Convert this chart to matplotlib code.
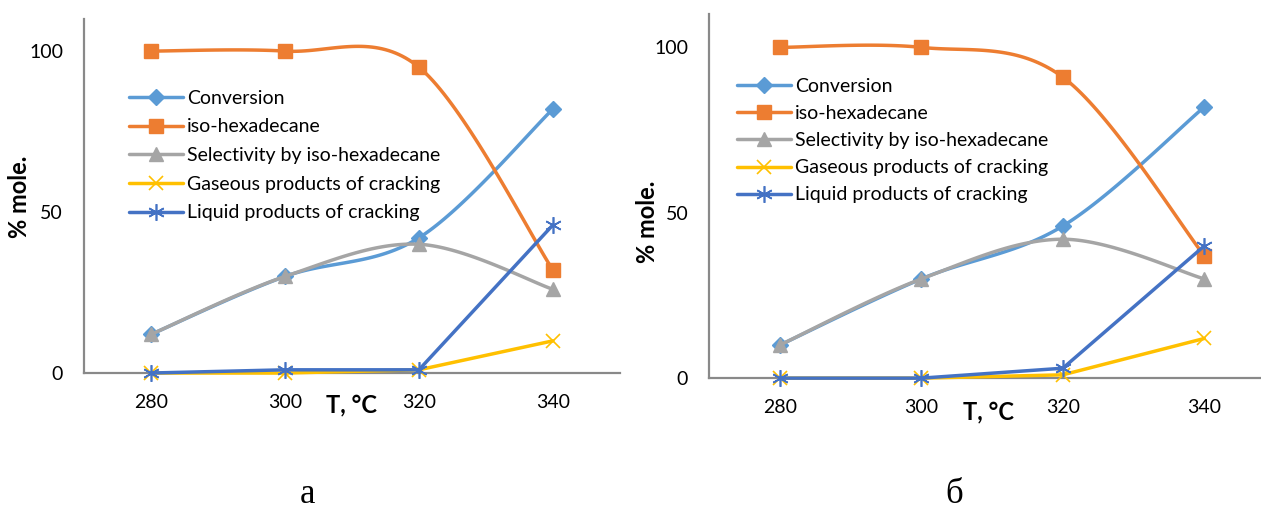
import numpy as np
import matplotlib
matplotlib.use("Agg")
import matplotlib.pyplot as plt

plt.rcParams['font.family'] = ['Lato', 'DejaVu Sans']

temps = ['280', '300', '320', '340']
series_names = ['Conversion', 'iso-hexadecane', 'Selectivity by iso-hexadecane',
                'Gaseous products of cracking', 'Liquid products of cracking']

# panel a
conv_a = [12, 30, 42, 82]
iso_a = [100, 100, 95, 32]
sel_a = [12, 30, 40, 26]
gas_a = [0, 0, 1, 10]
liq_a = [0, 1, 1, 46]

# panel б
conv_b = [10, 30, 46, 82]
iso_b = [100, 100, 91, 37]
sel_b = [10, 30, 42, 30]
gas_b = [0, 0, 1, 12]
liq_b = [0, 0, 3, 40]

colors = ['#5B9BD5', '#ED7D31', '#A5A5A5', '#FFC000', '#4472C4']
markers = ['D', 's', '^', 'x', (6, 2, 0)]
msizes = [8, 10, 10, 10, 12]
smooth_flags = [True, True, True, False, False]

N = 40


def smooth(xs, ys, n=N):
    # bezier smoothing through every point (tangent = neighbour chord / 6)
    pts = np.column_stack([xs, ys]).astype(float)
    ext = np.vstack([pts[0], pts, pts[-1]])
    out = [pts[:1]]
    t = np.linspace(0, 1, n + 1)[1:, None]
    for i in range(len(pts) - 1):
        p0, p3 = pts[i], pts[i + 1]
        p1 = p0 + (ext[i + 2] - ext[i]) / 6
        p2 = p3 - (ext[i + 3] - ext[i + 1]) / 6
        seg = (1 - t)**3 * p0 + 3 * (1 - t)**2 * t * p1 + 3 * (1 - t) * t**2 * p2 + t**3 * p3
        out.append(seg)
    return np.vstack(out)


def draw_panel(ax, data, leg_anchor, spacing, lab_x, lab_y, t_x, t_y):
    x = np.arange(len(temps))
    for k, (vals, c, m, ms, sm, name) in enumerate(
            zip(data, colors, markers, msizes, smooth_flags, series_names)):
        if sm:
            curve = smooth(x, vals)
            idx = list(range(0, len(curve), N))
        else:
            curve = np.column_stack([x, vals])
            idx = list(range(len(x)))
        thin = m == 'x' or isinstance(m, tuple)
        ax.plot(curve[:, 0], curve[:, 1], color=c, lw=2.5, label=name,
                marker=m, markevery=idx, ms=ms,
                mew=1.2 if thin else 1, mec=c, mfc=c,
                solid_capstyle='round', solid_joinstyle='round',
                clip_on=False, zorder=3 + k * 0.1)
    ax.set_xlim(-0.5, 3.5)
    ax.set_ylim(0, 110)
    ax.set_xticks(x)
    ax.set_xticklabels(temps)
    ax.set_yticks([0, 50, 100])
    ax.tick_params(length=0, pad=15, labelsize=14)
    for s in ('top', 'right'):
        ax.spines[s].set_visible(False)
    for s in ('left', 'bottom'):
        ax.spines[s].set_color('#898989')
        ax.spines[s].set_linewidth(1.6)
    ax.legend(loc='upper left', bbox_to_anchor=leg_anchor, frameon=False,
              fontsize=14, borderpad=0, handlelength=2.8, handletextpad=0.2,
              labelspacing=spacing, borderaxespad=0)
    ax.text(lab_x, lab_y, '% mole.', transform=ax.transAxes, rotation=90,
            ha='center', va='center', fontsize=17, fontweight='bold')
    ax.text(t_x, t_y, 'T, °C', transform=ax.transAxes,
            ha='center', va='center', fontsize=17, fontweight='bold')


fig = plt.figure(figsize=(12.61, 5.11), dpi=100)
ax1 = fig.add_axes([0.0666, 0.270, 0.425, 0.693])
ax2 = fig.add_axes([0.5623, 0.260, 0.4489, 0.712])

draw_panel(ax1, [conv_a, iso_a, sel_a, gas_a, liq_a], (0.084, 0.80), 0.6,
           -0.121, 0.497, 0.5, -0.09)
draw_panel(ax2, [conv_b, iso_b, sel_b, gas_b, liq_b], (0.049, 0.825), 0.52,
           -0.108, 0.43, 0.493, -0.093)

fig.text(0.2435, 0.0, 'а', ha='center', va='bottom', fontsize=25,
         family='Liberation Serif')
fig.text(0.7565, 0.0, 'б', ha='center', va='bottom', fontsize=25,
         family='Liberation Serif')

fig.savefig('out.png', dpi=100)
